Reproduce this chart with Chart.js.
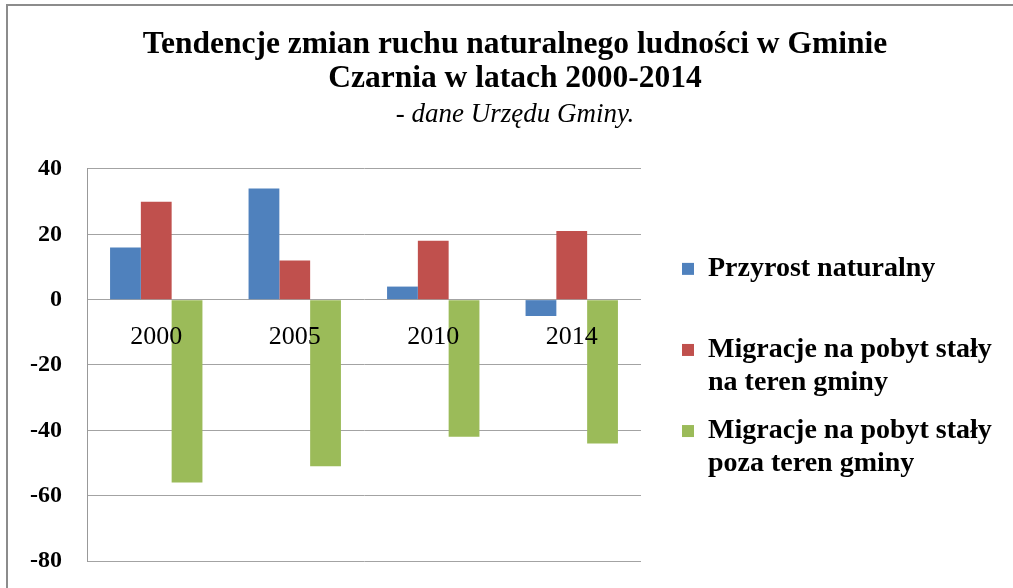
<!DOCTYPE html>
<html>
<head>
<meta charset="utf-8">
<script src="https://cdn.jsdelivr.net/npm/chart.js@4.4.1/dist/chart.umd.min.js"></script>
<style>
html,body{margin:0;padding:0;background:#fff;}
#wrap{width:1013px;height:588px;position:relative;}
canvas{display:block;}
</style>
</head>
<body>
<div id="wrap"><canvas id="c" width="1013" height="588"></canvas></div>
<script>
// ---- data ----
const categories = ['2000', '2005', '2010', '2014'];
const przyrostNaturalny = [16, 34, 4, -5];
const migracjeNaTeren = [30, 12, 18, 21];
const migracjePozaTeren = [-56, -51, -42, -44];
const seriesNames = [
  'Przyrost naturalny',
  'Migracje na pobyt stały na teren gminy',
  'Migracje na pobyt stały poza teren gminy'
];
const legendLines = [
  ['Przyrost naturalny', ''],
  ['Migracje na pobyt stały', 'na teren gminy'],
  ['Migracje na pobyt stały', 'poza teren gminy']
];
const yTickValues = [40, 20, 0, -20, -40, -60, -80];
const titleLines = ['Tendencje zmian ruchu naturalnego ludności w Gminie', 'Czarnia w latach 2000-2014'];
const subtitleText = '- dane Urzędu Gminy.';
const seriesColors = ['#4F81BD', '#C0504D', '#9BBB59'];

// ---- plugins (decoration / layout) ----
const framePlugin = {
  id: 'frame',
  beforeDraw(chart) {
    const ctx = chart.ctx;
    ctx.save();
    ctx.fillStyle = '#ffffff';
    ctx.fillRect(0, 0, chart.width, chart.height);
    ctx.strokeStyle = '#8c8c8c';
    ctx.lineWidth = 2;
    ctx.beginPath();
    ctx.moveTo(7, chart.height);
    ctx.lineTo(7, 5);
    ctx.lineTo(chart.width, 5);
    ctx.stroke();
    ctx.restore();
  }
};

const legendPlace = {
  id: 'legendPlace',
  beforeLayout(chart) {
    const lg = chart.legend;
    if (lg && !lg._fixedWidth) {
      const origFit = lg.fit.bind(lg);
      lg.fit = function () { origFit(); this.width = 372; };
      lg._fixedWidth = true;
    }
  },
  afterLayout(chart) {
    const lg = chart.legend;
    if (lg) {
      lg.left += 26; lg.right += 26;
      lg.top = 240; lg.bottom = 498;
    }
  }
};

const serif = 'Liberation Serif, Times New Roman, serif';

new Chart(document.getElementById('c'), {
  type: 'bar',
  data: {
    labels: categories,
    datasets: [
      { label: seriesNames[0], data: przyrostNaturalny, backgroundColor: seriesColors[0] },
      { label: seriesNames[1], data: migracjeNaTeren, backgroundColor: seriesColors[1] },
      { label: seriesNames[2], data: migracjePozaTeren, backgroundColor: seriesColors[2] }
    ]
  },
  options: {
    responsive: false,
    animation: false,
    devicePixelRatio: 1,
    layout: { padding: { left: 17, right: 0, top: 0, bottom: 27 } },
    datasets: { bar: { barPercentage: 1.0, categoryPercentage: 0.667, borderWidth: 0 } },
    scales: {
      x: {
        type: 'category',
        position: { y: 0 },
        offset: true,
        grid: { display: false },
        border: { display: false },
        ticks: {
          z: 1,
          color: '#000',
          padding: 14,
          maxRotation: 0,
          autoSkip: false,
          font: { family: serif, size: 26 }
        }
      },
      y: {
        min: -80,
        max: 40,
        position: 'left',
        afterFit(s) { s.width = 70; s.paddingTop = 0; s.paddingBottom = 0; },
        afterBuildTicks(s) { s.ticks = yTickValues.map(v => ({ value: v })); },
        grid: { color: '#a3a3a3', lineWidth: 1, drawTicks: false },
        border: { display: true, color: '#999999', width: 1 },
        ticks: {
          padding: 25,
          color: '#000',
          font: { family: serif, size: 24, weight: 'bold' }
        }
      }
    },
    plugins: {
      tooltip: { enabled: false },
      title: {
        display: true,
        text: titleLines,
        color: '#000',
        font: { family: serif, size: 31.5, weight: 'bold', lineHeight: 1.079 },
        padding: { top: 27.4, bottom: 0 }
      },
      subtitle: {
        display: true,
        text: subtitleText,
        color: '#000',
        font: { family: serif, size: 27, style: 'italic', weight: 'normal', lineHeight: 1.2 },
        padding: { top: 3.3, bottom: 37.9 }
      },
      legend: {
        position: 'right',
        align: 'center',
        labels: {
          color: '#000',
          boxWidth: 12,
          boxHeight: 12,
          padding: 15,
          font: { family: serif, size: 28, weight: 'bold', lineHeight: 1.18 },
          generateLabels(chart) {
            const items = Chart.defaults.plugins.legend.labels.generateLabels(chart);
            items.forEach((it, i) => { it.text = legendLines[i]; it.lineWidth = 0; it.strokeStyle = 'rgba(0,0,0,0)'; });
            return items;
          }
        }
      }
    }
  },
  plugins: [framePlugin, legendPlace]
});
</script>
</body>
</html>
